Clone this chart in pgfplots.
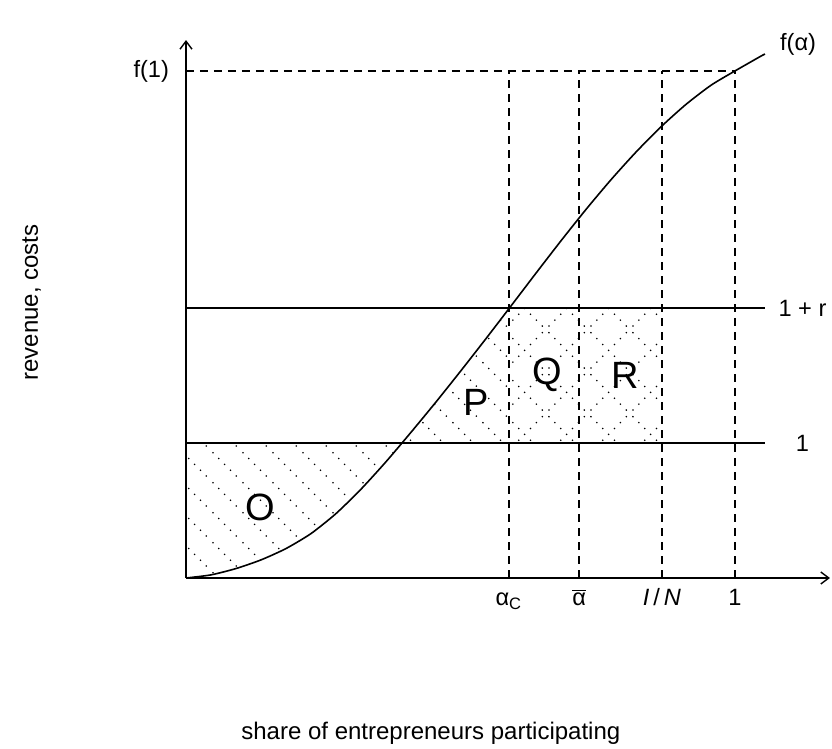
\documentclass[border=0pt]{standalone}
\usepackage{fontspec}
\setmainfont{Liberation Sans}
\usepackage{pgfplots}
\pgfplotsset{compat=1.18}
\usetikzlibrary{patterns,arrows.meta}
\pgfdeclarepatternformonly{dotnw}{\pgfpointorigin}{\pgfpoint{15pt}{15pt}}{\pgfpoint{15pt}{15pt}}{%
  \pgfpathcircle{\pgfpoint{1.5pt}{13.5pt}}{0.45pt}%
  \pgfpathcircle{\pgfpoint{4.5pt}{10.5pt}}{0.45pt}%
  \pgfpathcircle{\pgfpoint{7.5pt}{7.5pt}}{0.45pt}%
  \pgfpathcircle{\pgfpoint{10.5pt}{4.5pt}}{0.45pt}%
  \pgfpathcircle{\pgfpoint{13.5pt}{1.5pt}}{0.45pt}%
  \pgfusepath{fill}}
\pgfdeclarepatternformonly{dotcross}{\pgfpointorigin}{\pgfpoint{21pt}{21pt}}{\pgfpoint{21pt}{21pt}}{%
  \pgfpathcircle{\pgfpoint{1.5pt}{19.5pt}}{0.45pt}%
  \pgfpathcircle{\pgfpoint{4.5pt}{16.5pt}}{0.45pt}%
  \pgfpathcircle{\pgfpoint{7.5pt}{13.5pt}}{0.45pt}%
  \pgfpathcircle{\pgfpoint{13.5pt}{7.5pt}}{0.45pt}%
  \pgfpathcircle{\pgfpoint{16.5pt}{4.5pt}}{0.45pt}%
  \pgfpathcircle{\pgfpoint{19.5pt}{1.5pt}}{0.45pt}%
  \pgfpathcircle{\pgfpoint{1.5pt}{1.5pt}}{0.45pt}%
  \pgfpathcircle{\pgfpoint{4.5pt}{4.5pt}}{0.45pt}%
  \pgfpathcircle{\pgfpoint{7.5pt}{7.5pt}}{0.45pt}%
  \pgfpathcircle{\pgfpoint{10.5pt}{10.5pt}}{0.45pt}%
  \pgfpathcircle{\pgfpoint{13.5pt}{13.5pt}}{0.45pt}%
  \pgfpathcircle{\pgfpoint{16.5pt}{16.5pt}}{0.45pt}%
  \pgfpathcircle{\pgfpoint{19.5pt}{19.5pt}}{0.45pt}%
  \pgfusepath{fill}}
\begin{document}
\begin{tikzpicture}
\useasboundingbox (-93pt,-85.5pt) rectangle (323pt,289pt);
\begin{axis}[
  anchor=origin, at={(0pt,0pt)},
  x=274.5pt, y=67.5pt,
  xmin=0, xmax=1.173, ymin=0, ymax=3.985,
  axis lines=middle,
  axis line style={line width=0.7pt,-{Straight Barb[length=4pt,width=6pt]}},
  xtick={0.588,0.716,0.867,1},
  xticklabels={α\textsubscript{C}, $\overline{\mbox{α}}$, \textit{I}\,/\,\textit{N}, 1},
  ytick=\empty,
  tick align=inside,
  major tick length=4pt,
  tick style={line width=0.6pt, black},
  xticklabel style={anchor=base, yshift=-13.8pt},
  /pgf/number format/assume math mode=true,
  clip=false,
  font=\fontsize{11.8}{13}\selectfont,
]
% hatched regions
\addplot[draw=none, pattern=dotnw, pattern color=black] coordinates {
  (0,0) (0.0455,0.023) (0.0911,0.070) (0.1366,0.134) (0.1821,0.218) (0.2277,0.329)
  (0.2732,0.477) (0.3188,0.658) (0.3643,0.861) (0.3933,1.0) (0,1.0)} --cycle;
\addplot[draw=none, pattern=dotnw, pattern color=black] coordinates {
  (0.3933,1.0) (0.4098,1.079) (0.4554,1.304) (0.5009,1.536) (0.5464,1.773) (0.588,1.995) (0.588,1.0)} --cycle;
\addplot[draw=none, pattern=dotcross, pattern color=black] coordinates {
  (0.588,1.0) (0.867,1.0) (0.867,2.0) (0.588,2.0)} --cycle;
% horizontal lines
\addplot[black, line width=0.6pt] coordinates {(0,1) (1.055,1)};
\addplot[black, line width=0.6pt] coordinates {(0,2) (1.055,2)};
% dashed guides
\addplot[black, line width=0.7pt, dash pattern=on 4pt off 3pt] coordinates {(0,3.756) (1,3.756)};
\addplot[black, line width=0.7pt, dash pattern=on 4pt off 3pt] coordinates {(0.588,0) (0.588,3.756)};
\addplot[black, line width=0.7pt, dash pattern=on 4pt off 3pt] coordinates {(0.716,0) (0.716,3.756)};
\addplot[black, line width=0.7pt, dash pattern=on 4pt off 3pt] coordinates {(0.867,0) (0.867,3.756)};
\addplot[black, line width=0.7pt, dash pattern=on 4pt off 3pt] coordinates {(1,0) (1,3.756)};
% curve f(alpha)
\addplot[black, line width=0.8pt, smooth, tension=0.4] coordinates {
  (0,0) (0.0455,0.023) (0.0911,0.070) (0.1366,0.134) (0.1821,0.218) (0.2277,0.329)
  (0.2732,0.477) (0.3188,0.658) (0.3643,0.861) (0.4098,1.079) (0.4554,1.304)
  (0.5009,1.536) (0.5464,1.773) (0.5920,2.015) (0.6375,2.258) (0.6831,2.498)
  (0.7286,2.730) (0.7741,2.950) (0.8197,3.155) (0.8652,3.342) (0.9107,3.508)
  (0.9563,3.650) (1.0,3.756) (1.0474,3.866) (1.0546,3.881)};
% labels
\node[anchor=east] at (axis cs:0,3.756) [xshift=-5pt] {f(1)};
\node at (axis cs:1.123,2) {1 + r};
\node at (axis cs:1.123,1) {1};
\node at (axis cs:1.115,3.95) {f(α)};
\node[font=\fontsize{19}{21}\selectfont] at (axis cs:0.135,0.526) {O};
\node[font=\fontsize{19}{21}\selectfont] at (axis cs:0.529,1.304) {P};
\node[font=\fontsize{19}{21}\selectfont] at (axis cs:0.658,1.504) {Q};
\node[font=\fontsize{19}{21}\selectfont] at (axis cs:0.800,1.504) {R};
\node[anchor=base, font=\fontsize{12}{13}\selectfont] at (axis cs:0.446,-1.2) {share of entrepreneurs participating};
\node[anchor=base, rotate=90, font=\fontsize{12}{13}\selectfont] at (axis cs:-0.27,2.04) {revenue, costs};
\end{axis}
\end{tikzpicture}
\end{document}
